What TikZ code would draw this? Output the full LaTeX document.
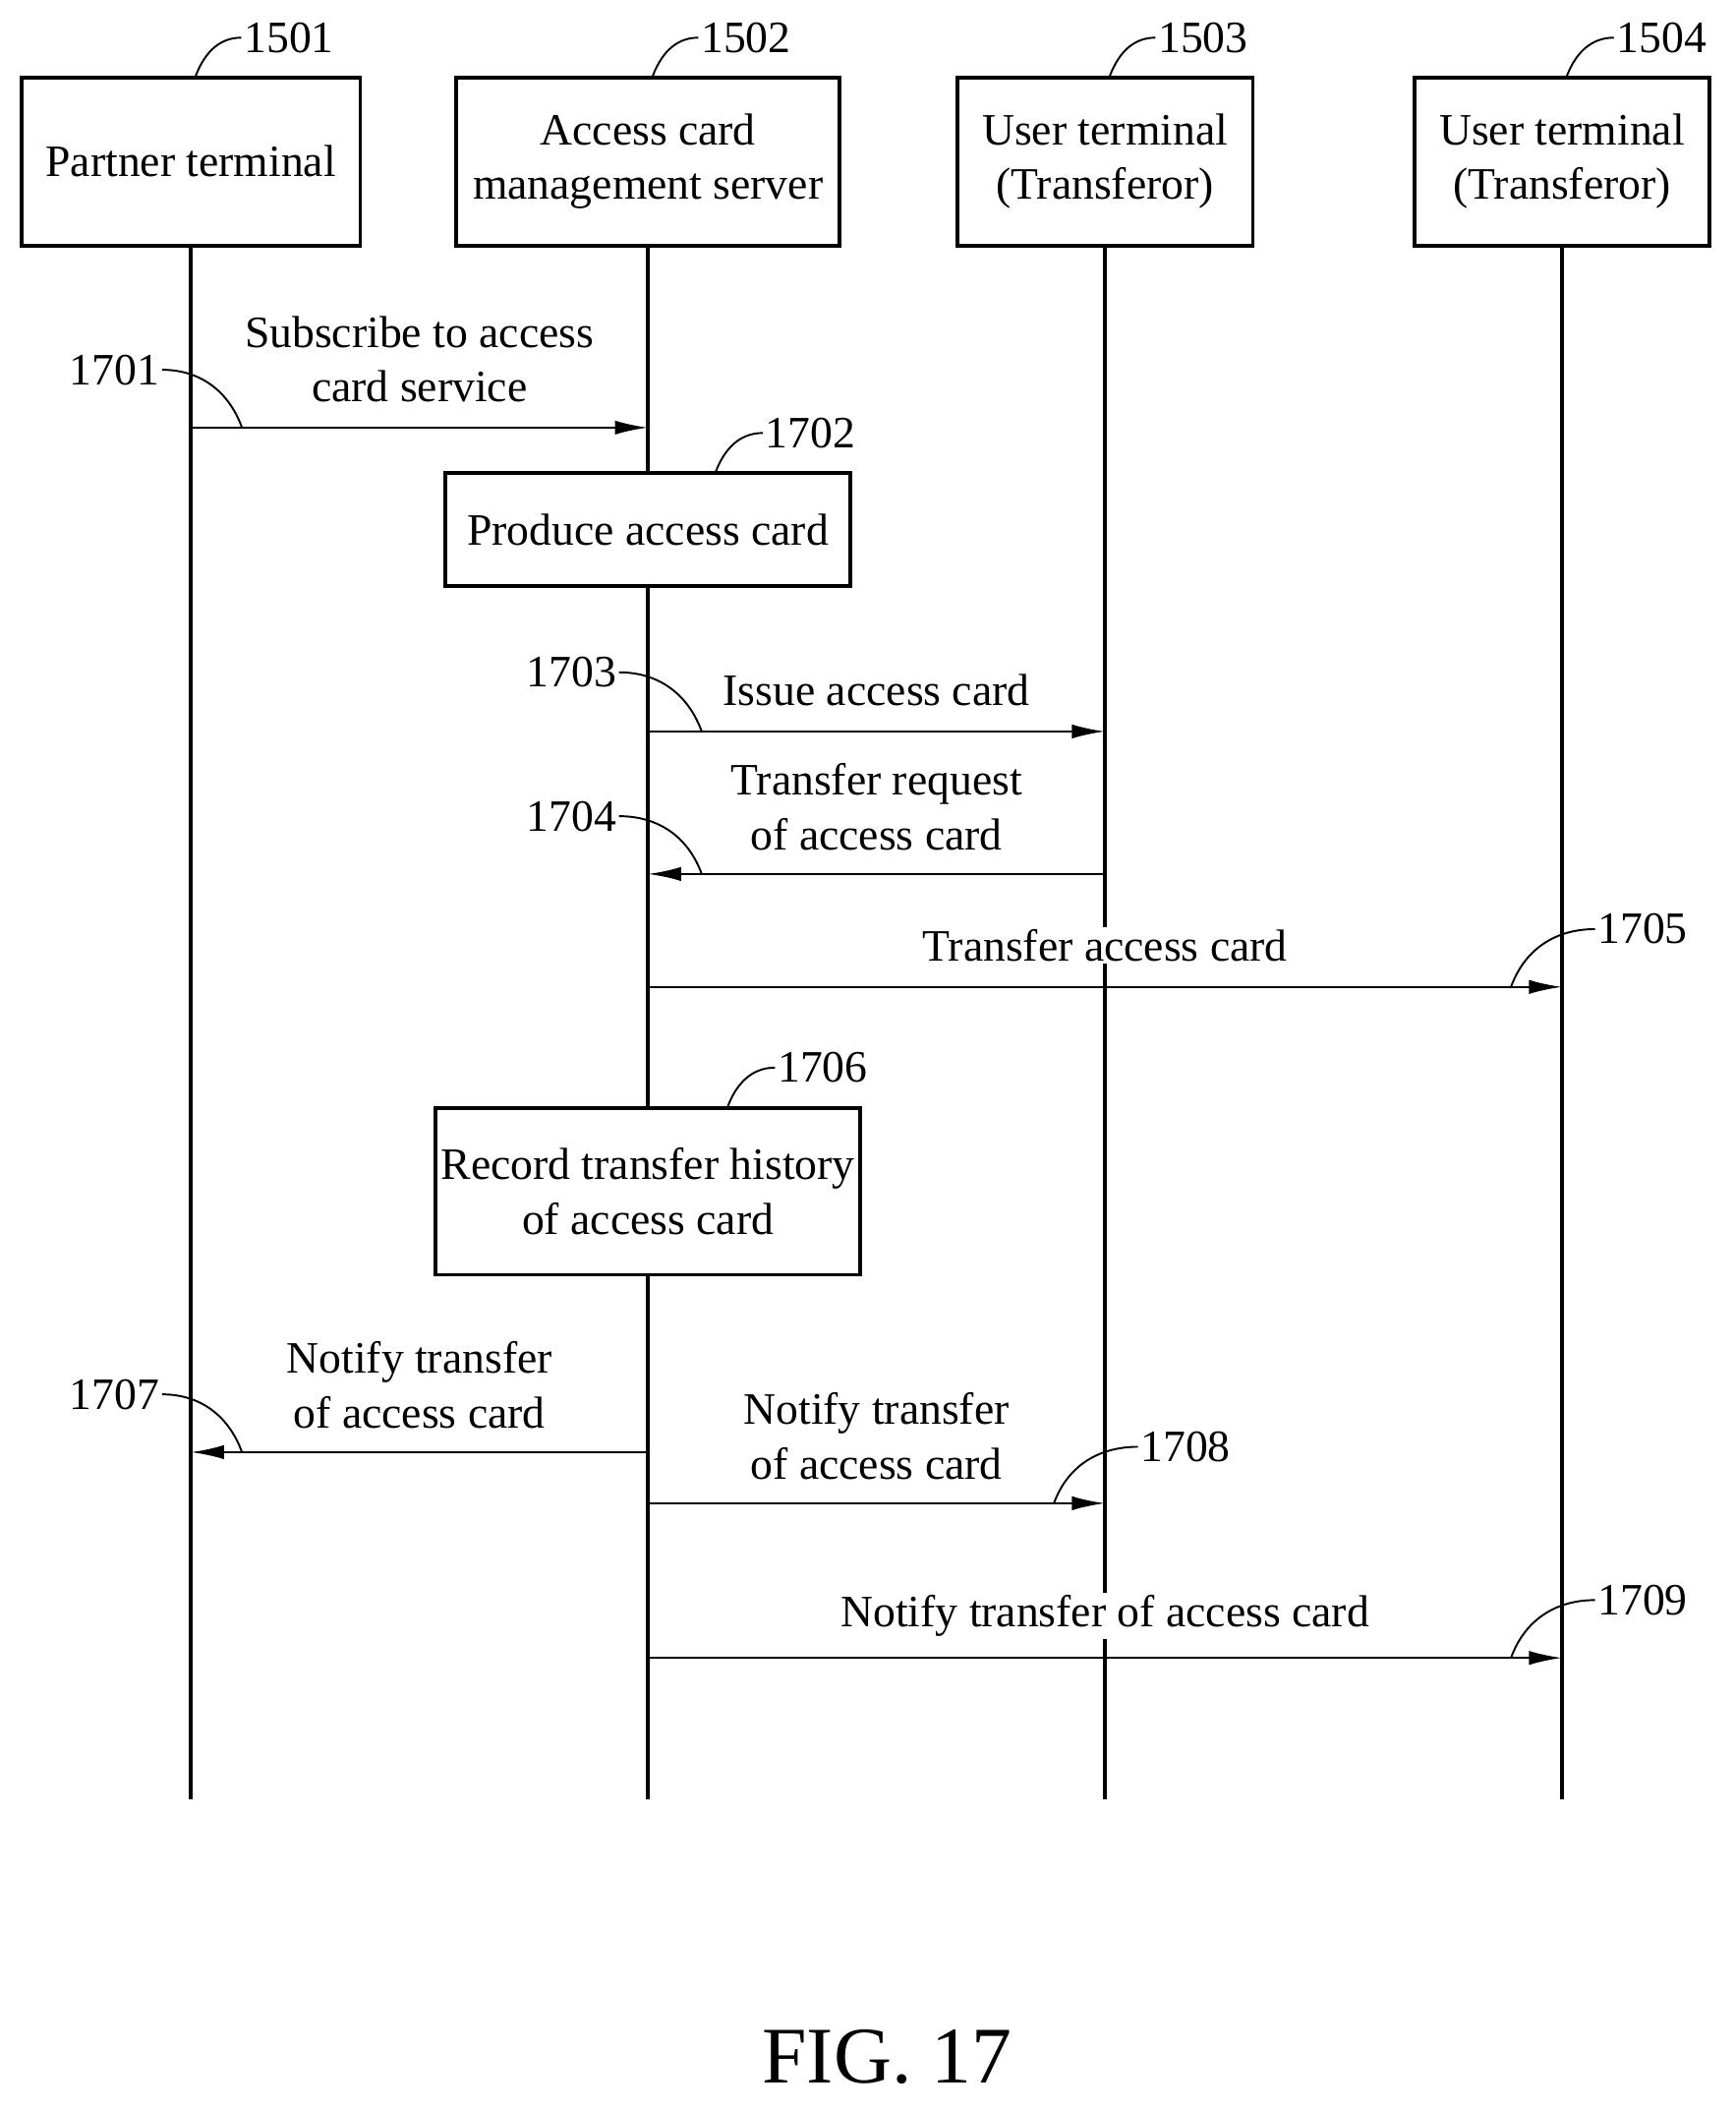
\documentclass[tikz,border=0pt]{standalone}
\usepackage{fontspec}
\setmainfont{Liberation Serif}
\usetikzlibrary{positioning}
\begin{document}
\begin{tikzpicture}[x=0.02cm,y=-0.02cm,font=\fontsize{19}{23}\selectfont,
    ent/.style={draw,line width=1.6pt,align=center,inner sep=0pt},
    life/.style={line width=1.6pt},
    msg/.style={line width=1pt,-{Latex[length=14pt,width=6pt]}},
    lbl/.style={align=center,fill=white,inner sep=1pt},
    num/.style={inner sep=1pt},
    lead/.style={line width=0.8pt}]
\usetikzlibrary{arrows.meta}
  \useasboundingbox (0,0) rectangle (1291,1570);
  % entities
  \node[ent,minimum width=252*0.02cm,minimum height=125*0.02cm] (p1) at (142,120) {Partner terminal};
  \node[ent,minimum width=285*0.02cm,minimum height=125*0.02cm] (p2) at (482,120) {Access card\\management server};
  \node[ent,minimum width=220*0.02cm,minimum height=125*0.02cm] (p3) at (822,120) {User terminal\\(Transferor)};
  \node[ent,minimum width=219*0.02cm,minimum height=125*0.02cm] (p4) at (1162,120) {User terminal\\(Transferor)};
  \coordinate (e1) at (142,1338);
  \coordinate (e2) at (482,1338);
  \coordinate (e3) at (822,1338);
  \coordinate (e4) at (1162,1338);
  % steps on the server
  \node[ent,fill=white,minimum width=301*0.02cm,minimum height=84*0.02cm] (s2) at (482,394) {Produce access card};
  \node[ent,fill=white,minimum width=316*0.02cm,minimum height=124*0.02cm] (s6) at (482,886) {Record transfer history\\of access card};
  % lifelines
  \draw[life] (p1) -- (e1);
  \draw[life] (p2) -- (s2);
  \draw[life] (s2) -- (s6);
  \draw[life] (s6) -- (e2);
  \draw[life] (p3) -- (e3);
  \draw[life] (p4) -- (e4);
  % messages
  \coordinate (a1) at (142,318); \coordinate (b1) at (482,318);
  \coordinate (a3) at (482,544); \coordinate (b3) at (822,544);
  \coordinate (a4) at (822,650); \coordinate (b4) at (482,650);
  \coordinate (a5) at (482,734); \coordinate (b5) at (1162,734);
  \coordinate (a7) at (482,1080); \coordinate (b7) at (142,1080);
  \coordinate (a8) at (482,1118); \coordinate (b8) at (822,1118);
  \coordinate (a9) at (482,1233); \coordinate (b9) at (1162,1233);
  \draw[msg] (a1) -- (b1);
  \draw[msg] (a3) -- (b3);
  \draw[msg] (a4) -- (b4);
  \draw[msg] (a5) -- (b5);
  \draw[msg] (a7) -- (b7);
  \draw[msg] (a8) -- (b8);
  \draw[msg] (a9) -- (b9);
  \node[lbl] (m1) at (312,267) {Subscribe to access\\card service};
  \node[lbl] (m3) at (652,513) {Issue access card};
  \node[lbl] (m4) at (652,600) {Transfer request\\of access card};
  \node[lbl] (m5) at (822,703) {Transfer access card};
  \node[lbl] (m7) at (312,1030) {Notify transfer\\of access card};
  \node[lbl] (m8) at (652,1068) {Notify transfer\\of access card};
  \node[lbl] (m9) at (822,1202) {Notify transfer of access card};
  % reference numerals
  \node[num] (n1501) at (215,28) {1501};
  \node[num] (n1502) at (555,28) {1502};
  \node[num] (n1503) at (895,28) {1503};
  \node[num] (n1504) at (1236,28) {1504};
  \node[num] (n1701) at (85,275) {1701};
  \node[num] (n1702) at (603,322) {1702};
  \node[num] (n1703) at (425,500) {1703};
  \node[num] (n1704) at (425,607) {1704};
  \node[num] (n1705) at (1222,691) {1705};
  \node[num] (n1706) at (612,794) {1706};
  \node[num] (n1707) at (85,1037) {1707};
  \node[num] (n1708) at (882,1076) {1708};
  \node[num] (n1709) at (1222,1190) {1709};
  \coordinate (t1501) at (145,58);
  \coordinate (t1502) at (485,58);
  \coordinate (t1503) at (825,58);
  \coordinate (t1504) at (1165,58);
  \coordinate (t1701) at (180,318);
  \coordinate (t1702) at (532,352);
  \coordinate (t1703) at (522,544);
  \coordinate (t1704) at (522,650);
  \coordinate (t1705) at (1124,734);
  \coordinate (t1706) at (541,824);
  \coordinate (t1707) at (180,1080);
  \coordinate (t1708) at (784,1118);
  \coordinate (t1709) at (1124,1233);
  \foreach \n in {1501,1502,1503,1504,1702,1706,1705,1708,1709}
    \draw[lead] (n\n.west) to[out=180,in=70] (t\n);
  \foreach \n in {1701,1703,1704,1707}
    \draw[lead] (n\n.east) to[out=0,in=110] (t\n);
  \node (fig) at (660,1530) {\fontsize{34}{40}\selectfont FIG. 17};
\end{tikzpicture}
\end{document}
